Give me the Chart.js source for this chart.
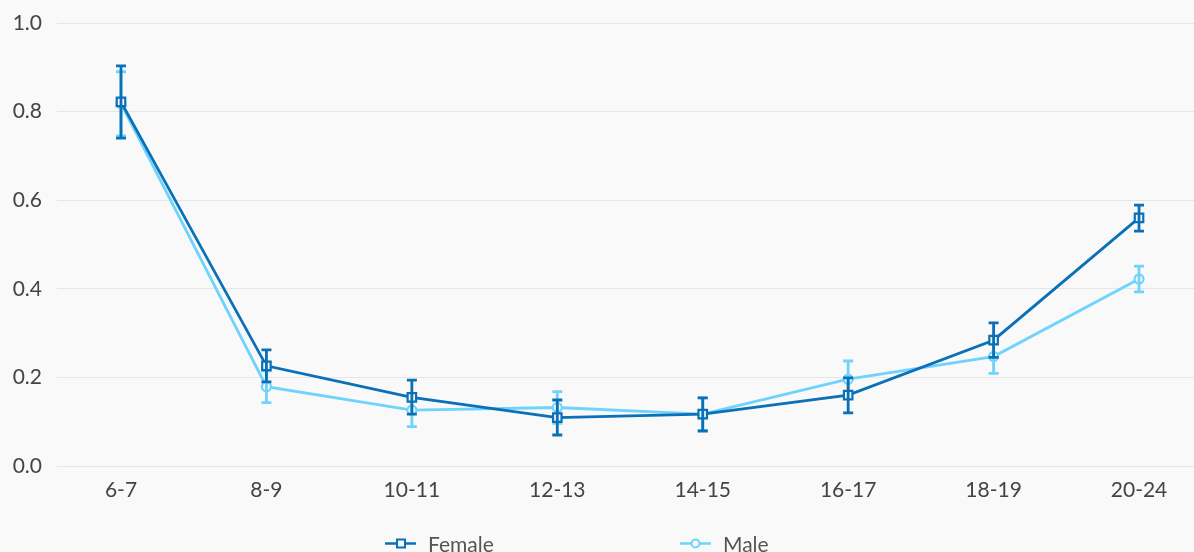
<!DOCTYPE html>
<html><head><meta charset="utf-8">
<script src="https://cdn.jsdelivr.net/npm/chart.js@4/dist/chart.umd.min.js"></script>
<style>html,body{margin:0;padding:0;background:#f9f9f9;}#wrap{width:1194px;height:552px;}</style>
</head><body><div id="wrap"><canvas id="c" width="1194" height="552"></canvas></div>
<script>
const categories = ["6-7","8-9","10-11","12-13","14-15","16-17","18-19","20-24"];
const femaleValues = [0.822,0.226,0.155,0.109,0.117,0.160,0.284,0.560];
const femaleLow    = [0.740,0.190,0.117,0.070,0.079,0.120,0.245,0.530];
const femaleHigh   = [0.903,0.262,0.194,0.149,0.154,0.199,0.323,0.589];
const maleValues   = [0.818,0.179,0.126,0.132,0.117,0.196,0.247,0.422];
const maleLow      = [0.745,0.143,0.089,0.096,0.080,0.155,0.209,0.393];
const maleHigh     = [0.890,0.215,0.163,0.168,0.154,0.237,0.285,0.451];
const yTicks = [0,0.2,0.4,0.6,0.8,1.0];

const FEMALE = '#0a70b8', MALE = '#6fd3fb';
const font = "Lato, 'Open Sans', sans-serif";

const errorBars = {
  id:'errorBars',
  afterDatasetDraw(chart, args){
    const ds = chart.data.datasets[args.index];
    if(!ds.errLow) return;
    const ctx = chart.ctx, x = chart.scales.x, y = chart.scales.y;
    ctx.save();
    ctx.strokeStyle = ds.borderColor; ctx.lineWidth = 2.8;
    ds.data.forEach((p,i)=>{
      const px = x.getPixelForValue(p.x);
      const lo = y.getPixelForValue(ds.errLow[i]), hi = y.getPixelForValue(ds.errHigh[i]);
      ctx.beginPath();
      ctx.moveTo(px,lo); ctx.lineTo(px,hi);
      ctx.moveTo(px-5,lo); ctx.lineTo(px+5,lo);
      ctx.moveTo(px-5,hi); ctx.lineTo(px+5,hi);
      ctx.stroke();
    });
    ctx.restore();
  }
};

const customLegend = {
  id:'customLegend',
  afterDraw(chart){
    const ctx = chart.ctx;
    const items = [{label:'Female',color:FEMALE,style:'rect',x:385},{label:'Male',color:MALE,style:'circle',x:680}];
    const yy = 543.5;
    ctx.save();
    items.forEach(it=>{
      ctx.strokeStyle = it.color; ctx.lineWidth = 2.5;
      ctx.beginPath(); ctx.moveTo(it.x,yy); ctx.lineTo(it.x+31,yy); ctx.stroke();
      ctx.fillStyle = '#f9f9f9'; ctx.lineWidth = 2;
      ctx.beginPath();
      if(it.style==='rect'){ ctx.rect(it.x+12,yy-4,8,8); }
      else { ctx.arc(it.x+15.5,yy,4,0,Math.PI*2); }
      ctx.fill(); ctx.stroke();
      ctx.fillStyle = '#555'; ctx.font = "21px "+font; ctx.textBaseline='alphabetic'; ctx.textAlign='left';
      ctx.fillText(it.label, it.x+43, 552);
    });
    ctx.restore();
  }
};

const bg = {id:'bg',beforeDraw(chart){const c=chart.ctx;c.save();c.fillStyle='#f9f9f9';c.fillRect(0,0,chart.width,chart.height);c.restore();}};

function mk(vals){return vals.map((v,i)=>({x:i,y:v}));}

new Chart(document.getElementById('c'),{
  type:'line',
  data:{datasets:[
    {label:'Female',data:mk(femaleValues),errLow:femaleLow,errHigh:femaleHigh,borderColor:FEMALE,backgroundColor:'#f9f9f9',
     borderWidth:2.8,pointStyle:'rect',pointRadius:6,pointBorderWidth:2.2,tension:0,clip:false},
    {label:'Male',data:mk(maleValues),errLow:maleLow,errHigh:maleHigh,borderColor:MALE,backgroundColor:'#f9f9f9',
     borderWidth:2.8,pointStyle:'circle',pointRadius:4.5,pointBorderWidth:2.2,tension:0,clip:false}
  ]},
  options:{
    responsive:false,animation:false,
    layout:{autoPadding:false,padding:{top:23,right:0,left:0,bottom:0}},
    plugins:{legend:{display:false},tooltip:{enabled:false}},
    scales:{
      x:{type:'linear',min:-0.44,max:7.378,bounds:'data',
        afterBuildTicks(s){s.ticks=categories.map((c,i)=>({value:i}));},
        afterFit(s){s.height=86;s.paddingLeft=0;s.paddingRight=0;},
        grid:{display:false},border:{display:false},
        ticks:{padding:4,maxRotation:0,autoSkip:false,color:'#444',font:{family:font,size:21},callback:(v)=>categories[v]}
      },
      y:{min:0,max:1,
        afterBuildTicks(s){s.ticks=yTicks.map(v=>({value:v}));},
        afterFit(s){s.width=57;s.paddingTop=0;s.paddingBottom=0;},
        grid:{color:'#e6e6e6',lineWidth:1,drawTicks:false},border:{display:false},
        ticks:{padding:15,color:'#444',font:{family:font,size:21},callback:(v)=>v.toFixed(1)}
      }
    }
  },
  plugins:[bg,errorBars,customLegend]
});
</script></body></html>
